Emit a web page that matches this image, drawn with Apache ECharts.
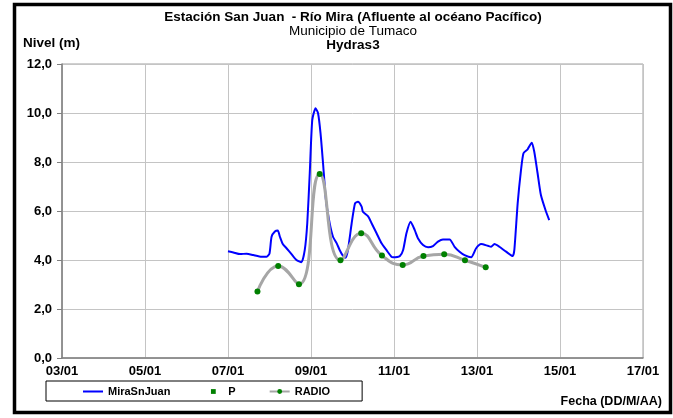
<!DOCTYPE html>
<html>
<head>
<meta charset="utf-8">
<script src="https://cdn.jsdelivr.net/npm/echarts@6/dist/echarts.min.js"></script>
<style>
  html, body { margin: 0; padding: 0; background: #fff; }
  #chart { width: 673px; height: 418px; }
</style>
</head>
<body>
<div id="chart"></div>
<script>
// eje X: días desde el 03/01
const xLabels = ['03/01', '05/01', '07/01', '09/01', '11/01', '13/01', '15/01', '17/01'];

// MiraSnJuan (nivel, m)
const miraDays = [4.00, 4.13, 4.29, 4.45, 4.61, 4.81, 4.93, 5.00, 5.05, 5.13, 5.20, 5.25, 5.32, 5.41, 5.53, 5.65, 5.77, 5.85, 5.91, 5.97,
  6.03, 6.11, 6.17, 6.23, 6.29, 6.36, 6.45, 6.53, 6.62, 6.69, 6.76, 6.83, 6.89, 6.98, 7.06, 7.13, 7.22, 7.25, 7.38, 7.46,
  7.58, 7.70, 7.82, 7.94, 7.98, 8.14, 8.22, 8.30, 8.40, 8.50, 8.58, 8.70, 8.82, 8.94, 9.06, 9.18, 9.34, 9.46, 9.58, 9.70,
  9.86, 9.98, 10.10, 10.26, 10.34, 10.42, 10.54, 10.70, 10.86, 10.90, 10.98, 11.06, 11.12, 11.22, 11.32, 11.38, 11.46, 11.54, 11.65, 11.74];
const miraLevel = [4.36, 4.31, 4.24, 4.26, 4.20, 4.13, 4.13, 4.27, 4.95, 5.16, 5.20, 4.95, 4.65, 4.48, 4.24, 4.00, 3.91, 4.41, 5.50, 7.54,
  9.71, 10.19, 9.99, 9.17, 7.95, 6.45, 5.50, 4.95, 4.68, 4.41, 4.20, 4.09, 4.41, 5.50, 6.31, 6.38, 6.18, 5.97, 5.77, 5.50,
  5.09, 4.68, 4.40, 4.13, 4.11, 4.16, 4.41, 5.09, 5.56, 5.22, 4.88, 4.61, 4.52, 4.57, 4.75, 4.84, 4.84, 4.54, 4.34, 4.20,
  4.11, 4.48, 4.65, 4.58, 4.54, 4.65, 4.54, 4.34, 4.16, 4.41, 6.31, 7.67, 8.36, 8.52, 8.79, 8.42, 7.54, 6.65, 6.04, 5.63];

// RADIO / P
const radioDays = [4.71, 5.21, 5.71, 6.21, 6.71, 7.21, 7.71, 8.21, 8.71, 9.21, 9.71, 10.21];
const radioLevel = [2.71, 3.76, 3.01, 7.51, 3.99, 5.09, 4.18, 3.80, 4.16, 4.23, 3.99, 3.70];

const zip = (a, b) => a.map((v, i) => [v, b[i]]);
const FONT = 'Arial, "Liberation Sans", sans-serif';

const chart = echarts.init(document.getElementById('chart'));

const option = {
  animation: false,
  backgroundColor: '#fff',
  grid: { left: 62, top: 64, width: 581, height: 294, show: true, borderColor: '#a0a0a0', borderWidth: 1 },
  xAxis: {
    type: 'value', min: 0, max: 14, interval: 2,
    axisLine: { show: true, onZero: false, lineStyle: { color: '#808080', width: 1.5 } },
    axisTick: { show: false },
    axisLabel: { formatter: v => xLabels[v / 2], color: '#000', fontWeight: 'bold', fontSize: 13, fontFamily: FONT, margin: 7 },
    splitLine: { show: true, lineStyle: { color: '#c4c4c4', width: 1 } }
  },
  yAxis: {
    type: 'value', min: 0, max: 12, interval: 2,
    axisLine: { show: true, lineStyle: { color: '#808080', width: 1.5 } },
    axisTick: { show: true, length: 5, lineStyle: { color: '#808080' } },
    axisLabel: { formatter: v => v.toFixed(1).replace('.', ','), color: '#000', fontWeight: 'bold', fontSize: 13, fontFamily: FONT, margin: 10 },
    splitLine: { show: true, lineStyle: { color: '#c4c4c4', width: 1 } }
  },
  legend: {
    left: 46, top: 381,
    itemWidth: 20, itemHeight: 6, itemGap: 33,
    padding: [5, 32, 4, 36],
    borderColor: '#000', borderWidth: 1,
    textStyle: { color: '#000', fontWeight: 'bold', fontSize: 11, fontFamily: FONT },
    data: [
      { name: 'MiraSnJuan', itemStyle: { opacity: 0 } },
      { name: 'P' },
      { name: 'RADIO' }
    ]
  },
  graphic: [
    { type: 'rect', shape: { x: 14.5, y: 4.5, width: 656, height: 408 }, style: { fill: 'none', stroke: '#000', lineWidth: 3.5 } },
    { type: 'text', x: 353, y: 17, style: { text: 'Estación San Juan  - Río Mira (Afluente al océano Pacífico)', font: 'bold 13.5px ' + FONT, fill: '#000', align: 'center', verticalAlign: 'middle' } },
    { type: 'text', x: 353, y: 31, style: { text: 'Municipio de Tumaco', font: '13.5px ' + FONT, fill: '#000', align: 'center', verticalAlign: 'middle' } },
    { type: 'text', x: 353, y: 45, style: { text: 'Hydras3', font: 'bold 13.5px ' + FONT, fill: '#000', align: 'center', verticalAlign: 'middle' } },
    { type: 'text', x: 23, y: 43, style: { text: 'Nivel (m)', font: 'bold 13.5px ' + FONT, fill: '#000', align: 'left', verticalAlign: 'middle' } },
    { type: 'text', x: 662, y: 402, style: { text: 'Fecha (DD/M/AA)', font: 'bold 12.5px ' + FONT, fill: '#000', align: 'right', verticalAlign: 'middle' } }
  ],
  series: [
    {
      name: 'MiraSnJuan', type: 'line', data: zip(miraDays, miraLevel),
      showSymbol: false, symbol: 'circle', smooth: 0.2,
      itemStyle: { color: '#0000ff' },
      lineStyle: { color: '#0000ff', width: 2 }, z: 3
    },
    {
      name: 'P', type: 'line', data: zip(radioDays, radioLevel),
      symbol: 'rect', symbolSize: 3,
      itemStyle: { color: '#008000' },
      lineStyle: { width: 0, opacity: 0 }, z: 2
    },
    {
      name: 'RADIO', type: 'line', data: zip(radioDays, radioLevel),
      smooth: true, symbol: 'circle', symbolSize: 6,
      itemStyle: { color: '#008000' },
      lineStyle: { color: '#a6a6a6', width: 3 }, z: 4
    }
  ]
};

chart.setOption(option);
</script>
</body>
</html>
